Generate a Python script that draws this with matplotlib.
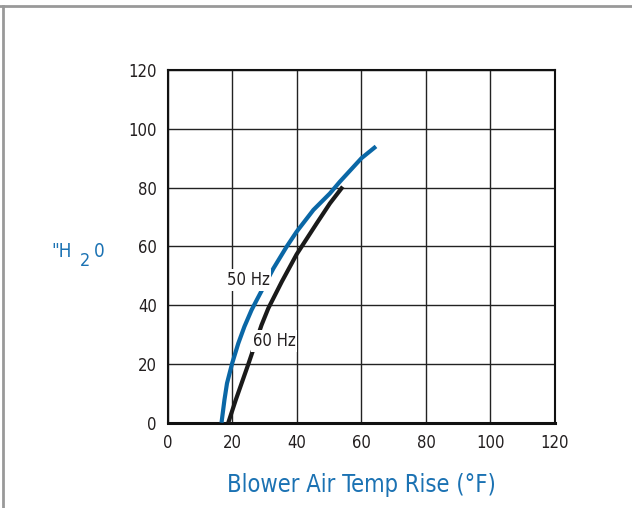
import matplotlib
matplotlib.use("Agg")
import matplotlib.pyplot as plt
from matplotlib.lines import Line2D

plt.rcParams['font.family'] = ['DejaVu Sans']
plt.rcParams['font.stretch'] = 'condensed'

# data
hz50_x = [16.6, 17.5, 18.3, 19.9, 21.8, 23.7, 25.9, 27.5, 32.7, 36.8, 39.9, 45.1, 50.2, 53.3, 60.0, 64.5]
hz50_y = [0, 7.7, 13.4, 20.2, 27.0, 32.7, 38.3, 41.7, 52.5, 59.9, 65.0, 72.4, 78.0, 82.0, 90.0, 94.0]
hz60_x = [18.7, 21.0, 25.0, 29.0, 31.1, 35.3, 39.9, 46.1, 50.2, 54.2]
hz60_y = [0, 7.7, 20.2, 33.2, 38.9, 48.0, 57.3, 67.8, 74.6, 80.3]
x_ticks = [0, 20, 40, 60, 80, 100, 120]
y_ticks = [0, 20, 40, 60, 80, 100, 120]
series_labels = ["50 Hz", "60 Hz"]
x_label = "Blower Air Temp Rise (°F)"

BLUE = "#0a67a6"
LBLUE = "#1b72b3"
TXT = "#231f20"

fig = plt.figure(figsize=(6.32, 5.08), dpi=100)
ax = fig.add_axes([0.2658, 0.1679, 0.6123, 0.6943])
ax.set_xlim(0, 120)
ax.set_ylim(0, 120)
ax.set_xticks(x_ticks)
ax.set_yticks(y_ticks)
ax.grid(True, color="#222222", linewidth=1.0)
ax.set_axisbelow(True)
ax.tick_params(length=0, labelsize=12, colors=TXT, pad=8)
for s in ax.spines.values():
    s.set_linewidth(1.5)
    s.set_color("#111111")
ax.spines['bottom'].set_linewidth(2.2)

ax.plot(hz60_x, hz60_y, color="#1a1a1a", lw=3.0, solid_capstyle='butt',
        solid_joinstyle='round', zorder=3)
ax.plot(hz50_x, hz50_y, color=BLUE, lw=3.0, solid_capstyle='butt',
        solid_joinstyle='round', zorder=3)

ax.text(24.8, 48.6, series_labels[0], ha='center', va='center', fontsize=12, color=TXT,
        bbox=dict(facecolor='white', edgecolor='none', pad=1.5), zorder=4)
ax.text(32.9, 27.8, series_labels[1], ha='center', va='center', fontsize=12, color=TXT,
        bbox=dict(facecolor='white', edgecolor='none', pad=1.5), zorder=4)

ax.set_xlabel(x_label, fontsize=17, color=LBLUE, labelpad=15)

# y label '"H2 0' with a lowered 2
def fx(px):
    return px / 632
def fy(py):
    return 1 - py / 508
fig.text(fx(51), fy(256.7), '"H', fontsize=13.5, color=LBLUE, ha='left', va='baseline')
fig.text(fx(80), fy(266), '2', fontsize=13, color=LBLUE, ha='left', va='baseline')
fig.text(fx(94), fy(256.7), '0', fontsize=13.5, color=LBLUE, ha='left', va='baseline')

# page border lines
fig.add_artist(Line2D([0, 1], [fy(6), fy(6)], transform=fig.transFigure, color="#999999", lw=2))
fig.add_artist(Line2D([fx(3), fx(3)], [0, fy(6)], transform=fig.transFigure, color="#999999", lw=2))

fig.savefig("out.png", dpi=100)
